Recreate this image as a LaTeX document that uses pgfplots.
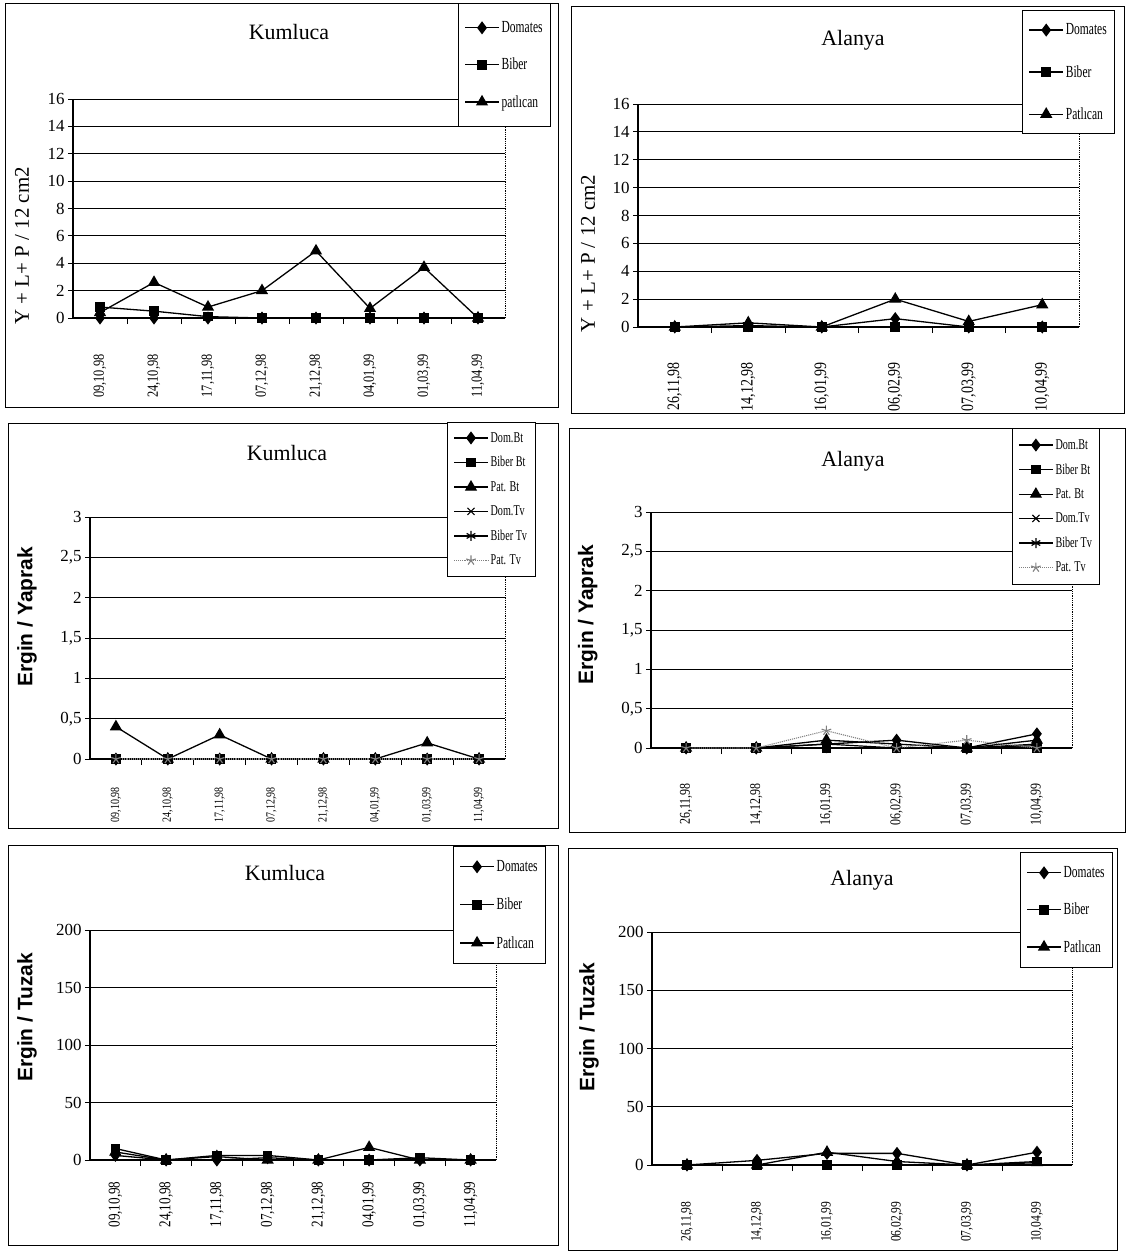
\documentclass[border=0pt]{standalone}
\usepackage{fontspec}
\setmainfont{Liberation Serif}
\setsansfont{Liberation Sans}
\newfontfamily\condfont{Liberation Serif}[FakeStretch=0.68]
\newfontfamily\xcond{Liberation Serif}[FakeStretch=0.8]
\usepackage{pgfplots}
\pgfplotsset{compat=1.18}
\usetikzlibrary{plotmarks}

\pgfplotsset{
  panel/.style={
    scale only axis, clip=false,
    axis x line=bottom, axis y line=left,
    axis line style={-, line width=1.1bp},
    ymajorgrids, grid style={black, line width=0.9bp},
    ymin=0,
    tick align=outside,
    major x tick style={draw=none},
    minor x tick style={black, line width=0.9bp},
    minor tick length=6bp,
    y tick style={black, line width=0.9bp},
    major tick length=5bp,
    /pgf/number format/assume math mode=true,
    /pgf/number format/use comma,
    y tick label style={font=\fontsize{17}{17}\selectfont},
    x tick label style={rotate=90, anchor=east},
    legend cell align=left,
    legend image code/.code={\draw[mark repeat=2,mark phase=2,##1] plot coordinates {(0bp,0bp) (17bp,0bp) (34bp,0bp)};},
    legend style={anchor=north west, draw=black, line width=0.9bp, fill=white,
      font=\condfont\fontsize{17}{17}\selectfont, inner xsep=6bp},
  },
  xf/.style={x tick label style={font=\xcond\fontsize{#1}{#1}\selectfont}},
  sfl/.style={ylabel style={font=\sffamily\bfseries\fontsize{21}{21}\selectfont}},
  kum/.style={xmin=-0.5, xmax=7.5, xtick={0,...,7}, minor xtick={0.5,1.5,...,6.5},
    xticklabels={{09,10,98},{24,10,98},{17,11,98},{07,12,98},{21,12,98},{04,01,99},{01,03,99},{11,04,99}}},
  ala/.style={xmin=-0.5, xmax=5.5, xtick={0,...,5}, minor xtick={0.5,1.5,...,4.5},
    xticklabels={{26,11,98},{14,12,98},{16,01,99},{06,02,99},{07,03,99},{10,04,99}}},
  sD/.style={black, line width=1.3bp, mark=diamond*, mark size=5.5bp, mark options={solid}},
  sB/.style={black, line width=1.3bp, mark=square*, mark size=4.2bp, mark options={solid}},
  sP/.style={black, line width=1.3bp, mark=triangle*, mark size=5.8bp, mark options={solid}},
  sDT/.style={black, line width=1.2bp, mark=x, mark size=5bp, mark options={solid}},
  sBT/.style={black, line width=1.2bp, mark=asterisk, mark size=5bp, mark options={solid}},
  sPT/.style={gray, line width=1.1bp, densely dotted, mark=star, mark size=5bp, mark options={solid}},
}

\begin{document}
\begin{tikzpicture}
\path[use as bounding box] (0,0) rectangle (1127bp,-1254bp);

% panel frames
\draw[line width=1bp] (5bp,-3bp) rectangle (558bp,-407bp);
\draw[line width=1bp] (571bp,-6bp) rectangle (1124bp,-413bp);
\draw[line width=1bp] (8bp,-423bp) rectangle (558bp,-828bp);
\draw[line width=1bp] (569bp,-428bp) rectangle (1125bp,-832bp);
\draw[line width=1bp] (8bp,-845bp) rectangle (558bp,-1245bp);
\draw[line width=1bp] (568bp,-848bp) rectangle (1117bp,-1250bp);

% titles
\node[font=\fontsize{22}{22}\selectfont] at (289bp,-32bp) {Kumluca};
\node[font=\fontsize{22}{22}\selectfont] at (853bp,-40bp) {Alanya};
\node[font=\fontsize{22}{22}\selectfont] at (287bp,-453bp) {Kumluca};
\node[font=\fontsize{22}{22}\selectfont] at (853bp,-461bp) {Alanya};
\node[font=\fontsize{22}{22}\selectfont] at (285bp,-873bp) {Kumluca};
\node[font=\fontsize{22}{22}\selectfont] at (862bp,-880bp) {Alanya};

% ---------- Panel 1 ----------
\begin{axis}[panel, kum, xf=15.5, at={(73bp,-318bp)}, anchor=south west, width=432bp, height=219bp,
  ymax=16, ytick={0,2,...,16}, xticklabel shift=28bp,
  ylabel={Y + L+ P / 12 cm2},
  ylabel style={at={(axis description cs:-0.118,0.33)}, anchor=center, font=\fontsize{21}{21}\selectfont},
  legend style={at={(axis description cs:0.891,1.438)}, inner ysep=16bp, row sep=20bp}]
\draw[densely dotted, line width=0.8bp] (rel axis cs:1,0) -- (rel axis cs:1,1);
\addplot[sD] coordinates {(0,0) (1,0) (2,0) (3,0) (4,0) (5,0) (6,0) (7,0)};
\addplot[sB] coordinates {(0,0.8) (1,0.5) (2,0.1) (3,0) (4,0) (5,0) (6,0) (7,0)};
\addplot[sP] coordinates {(0,0.4) (1,2.6) (2,0.8) (3,2.0) (4,4.9) (5,0.7) (6,3.7) (7,0)};
\legend{Domates, Biber, patlıcan}
\end{axis}

% ---------- Panel 2 ----------
\begin{axis}[panel, ala, xf=17.5, at={(638bp,-327bp)}, anchor=south west, width=441bp, height=223bp,
  ymax=16, ytick={0,2,...,16}, xticklabel shift=27bp,
  ylabel={Y + L+ P / 12 cm2},
  ylabel style={at={(axis description cs:-0.113,0.33)}, anchor=center, font=\fontsize{21}{21}\selectfont},
  legend style={at={(axis description cs:0.871,1.42)}, inner ysep=11bp, row sep=25bp}]
\draw[densely dotted, line width=0.8bp] (rel axis cs:1,0) -- (rel axis cs:1,1);
\addplot[sD] coordinates {(0,0) (1,0.1) (2,0) (3,0.6) (4,0) (5,0)};
\addplot[sB] coordinates {(0,0) (1,0) (2,0) (3,0) (4,0) (5,0)};
\addplot[sP] coordinates {(0,0) (1,0.3) (2,0) (3,2.0) (4,0.4) (5,1.6)};
\legend{Domates, Biber, Patlıcan}
\end{axis}

% ---------- Panel 3 ----------
\begin{axis}[panel, kum, sfl, xf=12.5, at={(90bp,-759bp)}, anchor=south west, width=415bp, height=242bp,
  ymax=3, ytick={0,0.5,...,3}, xticklabel shift=20bp,
  ylabel={Ergin / Yaprak},
  ylabel style={at={(axis description cs:-0.152,0.587)}, anchor=center},
  legend style={at={(axis description cs:0.86,1.393)}, inner ysep=8bp, row sep=9bp,
    font=\condfont\fontsize{15}{15}\selectfont}]
\draw[densely dotted, line width=0.8bp] (rel axis cs:1,0) -- (rel axis cs:1,1);
\addplot[sD] coordinates {(0,0) (1,0) (2,0) (3,0) (4,0) (5,0) (6,0) (7,0)};
\addplot[sB] coordinates {(0,0) (1,0) (2,0) (3,0) (4,0) (5,0) (6,0) (7,0)};
\addplot[sP] coordinates {(0,0.4) (1,0) (2,0.3) (3,0) (4,0) (5,0) (6,0.2) (7,0)};
\addplot[sDT] coordinates {(0,0) (1,0) (2,0) (3,0) (4,0) (5,0) (6,0) (7,0)};
\addplot[sBT] coordinates {(0,0) (1,0) (2,0) (3,0) (4,0) (5,0) (6,0) (7,0)};
\addplot[sPT] coordinates {(0,0) (1,0) (2,0) (3,0) (4,0) (5,0) (6,0) (7,0)};
\legend{Dom.Bt, Biber Bt, Pat. Bt, Dom.Tv, Biber Tv, Pat. Tv}
\end{axis}

% ---------- Panel 4 ----------
\begin{axis}[panel, ala, sfl, xf=15, at={(651bp,-748bp)}, anchor=south west, width=421bp, height=236bp,
  ymax=3, ytick={0,0.5,...,3}, xticklabel shift=27bp,
  ylabel={Ergin / Yaprak},
  ylabel style={at={(axis description cs:-0.15,0.564)}, anchor=center},
  legend style={at={(axis description cs:0.857,1.356)}, inner ysep=9bp, row sep=9bp,
    font=\condfont\fontsize{15}{15}\selectfont}]
\draw[densely dotted, line width=0.8bp] (rel axis cs:1,0) -- (rel axis cs:1,1);
\addplot[sD] coordinates {(0,0) (1,0) (2,0.05) (3,0.1) (4,0) (5,0.18)};
\addplot[sB] coordinates {(0,0) (1,0) (2,0) (3,0) (4,0) (5,0)};
\addplot[sP] coordinates {(0,0) (1,0) (2,0.1) (3,0.05) (4,0) (5,0.1)};
\addplot[sDT] coordinates {(0,0) (1,0) (2,0.05) (3,0) (4,0) (5,0.05)};
\addplot[sBT] coordinates {(0,0) (1,0) (2,0) (3,0) (4,0) (5,0.03)};
\addplot[sPT] coordinates {(0,0) (1,0) (2,0.22) (3,0) (4,0.1) (5,0)};
\legend{Dom.Bt, Biber Bt, Pat. Bt, Dom.Tv, Biber Tv, Pat. Tv}
\end{axis}

% ---------- Panel 5 ----------
\begin{axis}[panel, kum, sfl, xf=16.5, at={(90bp,-1160bp)}, anchor=south west, width=406bp, height=230bp,
  ymax=200, ytick={0,50,...,200}, xticklabel shift=13bp,
  ylabel={Ergin / Tuzak},
  ylabel style={at={(axis description cs:-0.155,0.62)}, anchor=center},
  legend style={at={(axis description cs:0.894,1.365)}, inner ysep=12bp, row sep=21bp}]
\draw[densely dotted, line width=0.8bp] (rel axis cs:1,0) -- (rel axis cs:1,1);
\addplot[sD] coordinates {(0,4) (1,0) (2,0) (3,2) (4,0) (5,0) (6,0) (7,0)};
\addplot[sB] coordinates {(0,10) (1,0) (2,4) (3,4) (4,0) (5,0) (6,2) (7,0)};
\addplot[sP] coordinates {(0,7) (1,0) (2,3) (3,0) (4,0) (5,11) (6,0) (7,0)};
\legend{Domates, Biber, Patlıcan}
\end{axis}

% ---------- Panel 6 ----------
\begin{axis}[panel, ala, sfl, xf=14.5, at={(652bp,-1165bp)}, anchor=south west, width=420bp, height=233bp,
  ymax=200, ytick={0,50,...,200}, xticklabel shift=28bp,
  ylabel={Ergin / Tuzak},
  ylabel style={at={(axis description cs:-0.15,0.59)}, anchor=center},
  legend style={at={(axis description cs:0.876,1.343)}, inner ysep=12bp, row sep=20bp}]
\draw[densely dotted, line width=0.8bp] (rel axis cs:1,0) -- (rel axis cs:1,1);
\addplot[sD] coordinates {(0,0) (1,4) (2,10) (3,10) (4,0) (5,11)};
\addplot[sB] coordinates {(0,0) (1,0) (2,0) (3,0) (4,0) (5,3)};
\addplot[sP] coordinates {(0,0) (1,0) (2,11) (3,3) (4,0) (5,2)};
\legend{Domates, Biber, Patlıcan}
\end{axis}
\end{tikzpicture}
\end{document}
